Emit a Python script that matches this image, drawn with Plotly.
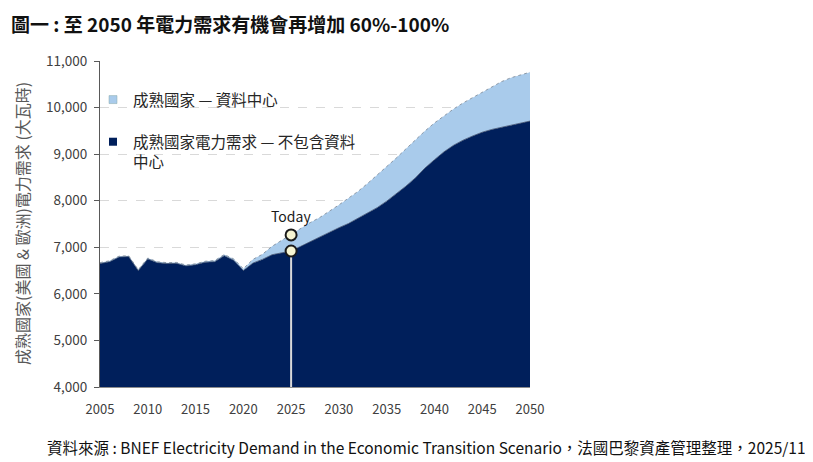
import plotly.graph_objects as go

# 成熟國家（美國 & 歐洲）電力需求，單位：大瓦時
years = list(range(2005, 2051))
demand_ex_dc = [
    6650, 6690, 6790, 6800, 6500, 6750, 6670, 6650, 6655, 6600,
    6625, 6680, 6690, 6820, 6720, 6500, 6660, 6740, 6840, 6880,
    6920, 7020, 7120, 7230, 7320, 7420, 7510, 7620, 7740, 7850,
    7990, 8140, 8310, 8490, 8700, 8880, 9050, 9190, 9300, 9390,
    9470, 9530, 9575, 9625, 9670, 9710,
]
demand_total = [
    6670, 6710, 6810, 6820, 6520, 6770, 6690, 6670, 6675, 6620,
    6645, 6700, 6715, 6845, 6750, 6540, 6740, 6850, 7020, 7150,
    7265, 7400, 7530, 7640, 7770, 7910, 8055, 8200, 8370, 8545,
    8730, 8915, 9110, 9305, 9495, 9670, 9825, 9970, 10100, 10215,
    10335, 10455, 10555, 10640, 10700, 10760,
]
today_year = 2025

label_dc = "成熟國家 — 資料中心"
label_ex = "成熟國家電力需求 — 不包含資料<br>中心"

navy = "#001F5B"
light_blue = "#A9CBEB"
font_cjk = "Noto Sans CJK TC"

i_today = years.index(today_year)

# the page body has an 8px margin, so the figure is laid out 8px smaller
W, H = 805, 454
L, R, T, B = 92, 283, 53, 75
pw, ph = W - L - R, H - T - B


def px(x):
    return (x - L) / pw


def py(y):
    return 1 - (y - T) / ph


fig = go.Figure()

fig.add_trace(go.Scatter(
    x=years, y=demand_ex_dc, mode="lines", fill="tozeroy",
    fillcolor=navy, line=dict(color="#3a4a6a", width=0.8),
    showlegend=False, hoverinfo="skip"))
fig.add_trace(go.Scatter(
    x=years, y=demand_total, mode="lines", fill="tonexty",
    fillcolor=light_blue, line=dict(color="#7a8796", width=0.8, dash="dot"),
    showlegend=False, hoverinfo="skip"))

# today marker line + points
fig.add_trace(go.Scatter(
    x=[today_year, today_year], y=[4000, demand_ex_dc[i_today]],
    mode="lines", line=dict(color="#D9D9D9", width=2),
    showlegend=False, hoverinfo="skip"))
fig.add_trace(go.Scatter(
    x=[today_year, today_year],
    y=[demand_ex_dc[i_today], demand_total[i_today]],
    mode="markers",
    marker=dict(size=11, color="#F7F5D2", line=dict(color="#1a1a1a", width=2)),
    showlegend=False, hoverinfo="skip"))

# legend entries (square swatches)
fig.add_trace(go.Scatter(
    x=[None], y=[None], mode="markers", name=label_dc, legendgroup="a",
    marker=dict(symbol="square", size=8, color=light_blue,
                line=dict(color="#8aa", width=0.5))))
fig.add_trace(go.Scatter(
    x=[None], y=[None], mode="markers", name=label_ex, legendgroup="b",
    marker=dict(symbol="square", size=8, color=navy)))

fig.add_annotation(
    x=today_year, y=demand_total[i_today], text="Today", showarrow=False,
    yshift=19, font=dict(family=font_cjk, size=14, color="#1a1a1a"))

fig.add_annotation(
    xref="paper", yref="paper", x=px(1), y=py(0),
    xanchor="left", yanchor="top", showarrow=False,
    text="<b>圖一 : 至 2050 年電力需求有機會再增加 60%-100%</b>",
    font=dict(family=font_cjk, size=19, color="#111111"))
fig.add_annotation(
    xref="paper", yref="paper", x=px(800), y=py(439),
    xanchor="right", yanchor="middle", showarrow=False,
    text="資料來源 : BNEF Electricity Demand in the Economic Transition Scenario，法國巴黎資產管理整理，2025/11",
    font=dict(family=font_cjk, size=15.5, color="#111111"))
fig.add_annotation(
    xref="paper", yref="paper", x=px(14), y=0.5, textangle=-90,
    xanchor="center", yanchor="middle", showarrow=False,
    text="成熟國家(美國 & 歐洲)電力需求 (大瓦時)",
    font=dict(family=font_cjk, size=16, color="#595959"))

fig.update_layout(
    width=W, height=H,
    margin=dict(l=L, r=R, t=T, b=B),
    paper_bgcolor="white", plot_bgcolor="white",
    font=dict(family=font_cjk, size=12, color="#404040"),
    legend=dict(
        x=px(85), y=py(75), xanchor="left", yanchor="top",
        bgcolor="rgba(0,0,0,0)", valign="top", tracegroupgap=19,
        font=dict(family=font_cjk, size=15.5, color="#262626"),
    ),
)

fig.update_xaxes(
    range=[2005, 2050], tick0=2005, dtick=5, showgrid=False,
    showline=True, linecolor="#8c8c8c", linewidth=1, ticks="",
    ticklabelstandoff=10,
    tickfont=dict(size=13, color="#404040"), zeroline=False)
fig.update_yaxes(
    range=[4000, 11000], dtick=1000, tickformat=",d",
    showgrid=True, gridcolor="#D9D9D9", griddash="dash", gridwidth=1,
    showline=True, linecolor="#595959", linewidth=1,
    ticks="outside", ticklen=5, tickcolor="#595959", ticklabelstandoff=4,
    tickfont=dict(size=13.5, color="#404040"), zeroline=False)

fig.write_html("out.html")
